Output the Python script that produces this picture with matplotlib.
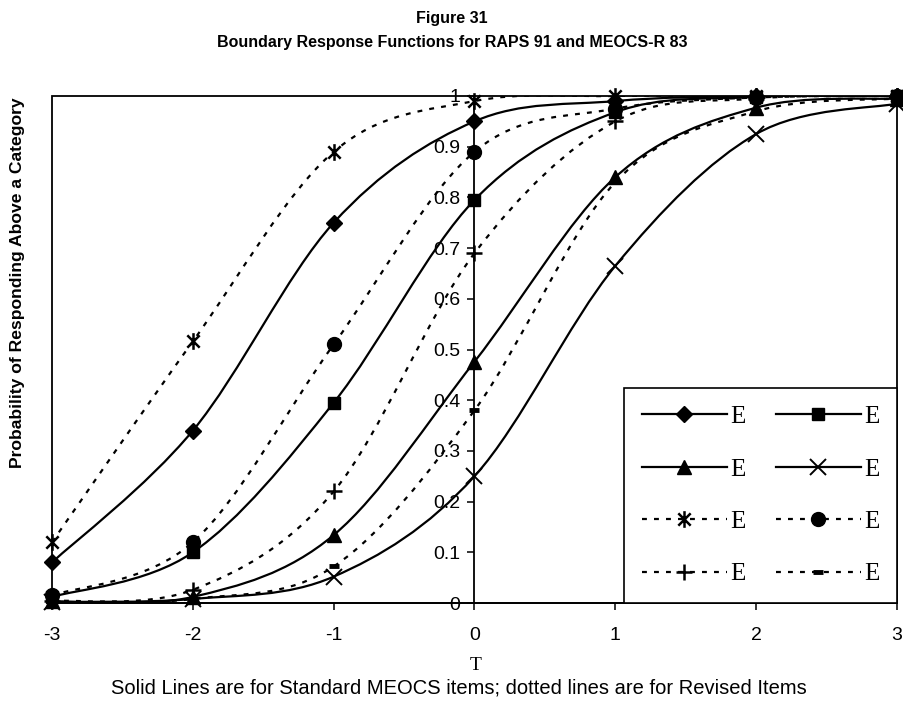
import numpy as np
import matplotlib
matplotlib.use("Agg")
import matplotlib.pyplot as plt
from matplotlib import font_manager
from matplotlib.path import Path
from matplotlib.patches import PathPatch, Rectangle
from matplotlib.lines import Line2D
from matplotlib.ticker import FuncFormatter

plt.rcParams['font.family'] = ['Liberation Sans', 'DejaVu Sans']
plt.rcParams['axes.unicode_minus'] = False

# ability scale (T) and boundary response probabilities
theta = [-3, -2, -1, 0, 1, 2, 3]

# standard MEOCS items (solid lines)
diamond = [0.08, 0.34, 0.75, 0.95, 0.99, 1.0, 1.0]
square = [0.012, 0.10, 0.395, 0.795, 0.968, 0.998, 1.0]
triangle = [0.003, 0.012, 0.134, 0.476, 0.84, 0.977, 0.995]
xcross = [0.002, 0.008, 0.052, 0.25, 0.665, 0.925, 0.985]

# revised items (dotted lines)
star = [0.12, 0.516, 0.89, 0.99, 1.0, 1.0, 1.0]
circle = [0.015, 0.12, 0.51, 0.89, 0.975, 0.997, 1.0]
plus = [0.004, 0.026, 0.22, 0.69, 0.95, 0.995, 1.0]
dash = [0.001, 0.008, 0.072, 0.38, 0.83, 0.97, 0.995]

SOLID = '-'
DOTTED = (0, (2.2, 3.2))

# narrow face for the title if the system has one
installed = {f.name for f in font_manager.fontManager.ttflist}
if 'Liberation Sans Narrow' in installed:
    narrow = ['Liberation Sans Narrow', 'Liberation Sans']
    title_size, ylab_size = 13.6, 15.0
else:
    narrow = ['Liberation Sans', 'DejaVu Sans']
    title_size, ylab_size = 11.5, 12.6

star_marker = Path([(-1, -1), (1, 1), (-1, 1), (1, -1), (0, -1.35), (0, 1.35)],
                   [Path.MOVETO, Path.LINETO, Path.MOVETO, Path.LINETO,
                    Path.MOVETO, Path.LINETO])

series = [
    (diamond, SOLID, dict(marker='D', ms=8)),
    (square, SOLID, dict(marker='s', ms=9)),
    (triangle, SOLID, dict(marker='^', ms=10)),
    (xcross, SOLID, dict(marker='x', ms=11, mew=1.4)),
    (star, DOTTED, dict(marker=star_marker, ms=12, mew=1.8)),
    (circle, DOTTED, dict(marker='o', ms=10)),
    (plus, DOTTED, dict(marker='+', ms=12, mew=1.8)),
    (dash, DOTTED, dict(marker='_', ms=7, mew=3.5)),
]


def smooth_path(xs, ys):
    # Excel-style smoothed line: cubic Bezier through every point
    pts = np.column_stack([xs, ys]).astype(float)
    n = len(pts)
    verts = [pts[0]]
    codes = [Path.MOVETO]
    for i in range(n - 1):
        p_prev = pts[max(i - 1, 0)]
        p0 = pts[i]
        p1 = pts[i + 1]
        p_next = pts[min(i + 2, n - 1)]
        c1 = p0 + (p1 - p_prev) / 6.0
        c2 = p1 - (p_next - p0) / 6.0
        verts += [c1, c2, p1]
        codes += [Path.CURVE4] * 3
    return Path(verts, codes)


fig = plt.figure(figsize=(9.04, 7.06), dpi=100)
ax = fig.add_axes([52 / 904, 103 / 706, 845 / 904, 507 / 706])
ax.set_xlim(-3, 3)
ax.set_ylim(0, 1)

handles = []
for vals, ls, mk in series:
    patch = PathPatch(smooth_path(theta, vals), fill=False, ec='black',
                      lw=1.6, ls=ls, zorder=3)
    ax.add_patch(patch)
    ax.plot(theta, vals, ls='none', color='black', mfc='black', mec='black',
            clip_on=False, zorder=4, **mk)
    handles.append(Line2D([], [], color='black', lw=1.6, ls=ls, mfc='black',
                          mec='black', **mk))

# plot area frame
ax.add_patch(Rectangle((0, 0), 1, 1, transform=ax.transAxes, fill=False,
                       ec='black', lw=1.3, clip_on=False, zorder=5))

ax.spines['left'].set_position(('data', 0))
ax.spines['top'].set_visible(False)
ax.spines['right'].set_visible(False)
for s in ['left', 'bottom']:
    ax.spines[s].set_linewidth(1.3)

ax.set_xticks(theta)
ax.set_yticks(np.linspace(0, 1, 11))
ax.yaxis.set_major_formatter(FuncFormatter(lambda v, p: '%g' % round(v, 1)))
ax.tick_params(direction='out', length=5, width=1.1, labelsize=14, pad=5)
ax.tick_params(axis='x', pad=12)

# legend laid out row by row like the original
order = [0, 2, 4, 6, 1, 3, 5, 7]
leg = ax.legend([handles[i] for i in order], ['E'] * 8, ncol=2,
                loc='lower right', bbox_to_anchor=(1, 0), borderaxespad=0,
                prop={'family': ['Liberation Serif', 'DejaVu Serif'], 'size': 18},
                handlelength=3.4, handletextpad=0.15, columnspacing=1.2,
                labelspacing=1.2, borderpad=0.7, frameon=True, fancybox=False,
                framealpha=1)
leg.get_frame().set_edgecolor('black')
leg.get_frame().set_linewidth(1.2)
leg.set_zorder(6)

fig.text(0.5, 1 - 18 / 706, 'Figure 31', ha='center', va='center',
         fontsize=title_size, fontweight='bold', family=narrow)
fig.text(0.5, 1 - 43 / 706, 'Boundary Response Functions for RAPS 91 and MEOCS-R 83',
         ha='center', va='center', fontsize=title_size, fontweight='bold',
         family=narrow)
fig.text(18 / 904, 1 - 283 / 706, 'Probability of Responding Above a Category',
         rotation=90, ha='center', va='center', fontsize=ylab_size,
         fontweight='bold', family=narrow)
fig.text(476 / 904, 1 - 665 / 706, 'T', ha='center', va='center', fontsize=14,
         family=['Liberation Serif', 'DejaVu Serif'])
fig.text(459 / 904, 1 - 688 / 706,
         'Solid Lines are for Standard MEOCS items; dotted lines are for Revised Items',
         ha='center', va='center', fontsize=14.5)

fig.savefig('out.png', dpi=100)
